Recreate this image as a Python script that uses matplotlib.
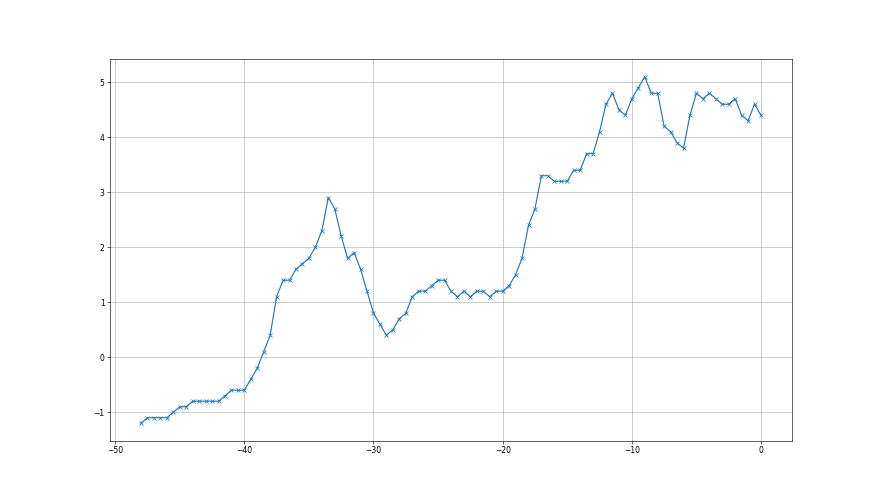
import numpy as np
import matplotlib
matplotlib.use("Agg")
import matplotlib.pyplot as plt

x = np.arange(-48, 0.5, 0.5)
y = [-1.2, -1.1, -1.1, -1.1, -1.1, -1.0, -0.9, -0.9, -0.8, -0.8, -0.8, -0.8, -0.8, -0.7, -0.6, -0.6, -0.6,
     -0.4, -0.2, 0.1, 0.4, 1.1, 1.4, 1.4, 1.6, 1.7, 1.8, 2.0, 2.3, 2.9, 2.7, 2.2, 1.8, 1.9, 1.6, 1.2, 0.8,
     0.6, 0.4, 0.5, 0.7, 0.8, 1.1, 1.2, 1.2, 1.3, 1.4, 1.4, 1.2, 1.1, 1.2, 1.1, 1.2, 1.2, 1.1, 1.2, 1.2,
     1.3, 1.5, 1.8, 2.4, 2.7, 3.3, 3.3, 3.2, 3.2, 3.2, 3.4, 3.4, 3.7, 3.7, 4.1, 4.6, 4.8, 4.5, 4.4, 4.7,
     4.9, 5.1, 4.8, 4.8, 4.2, 4.1, 3.9, 3.8, 4.4, 4.8, 4.7, 4.8, 4.7, 4.6, 4.6, 4.7, 4.4, 4.3, 4.6, 4.4]

fig = plt.figure(figsize=(16, 9), dpi=55)
ax = fig.add_subplot(111)
ax.plot(x, y, marker="x")
ax.grid(True)
fig.savefig("out.png")
